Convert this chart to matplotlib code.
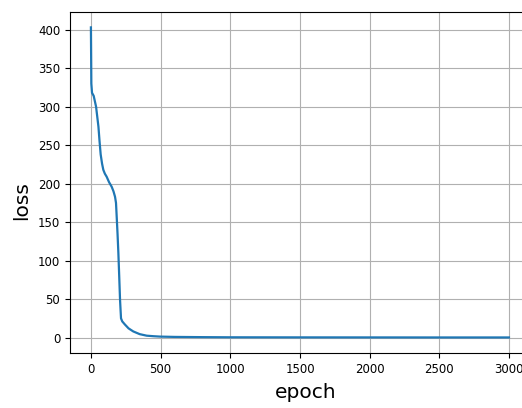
import matplotlib
matplotlib.use("Agg")
import matplotlib.pyplot as plt

# values
epochs = [0, 1, 3, 8, 20, 37, 54, 62, 70, 80, 89, 100, 113, 130, 149, 162, 173, 180,
          185, 191, 197, 203, 209, 213, 216, 225, 244, 270, 304, 350, 400, 450, 497,
          600, 800, 1000, 1500, 2000, 2500, 2999]
losses = [403, 380, 330, 318, 314, 300, 274, 255, 238, 226, 218, 213, 209, 202, 196,
          190, 183, 175, 157, 135, 110, 80, 49, 35, 25, 21, 17, 12, 8, 4.5, 2.5,
          1.8, 1.3, 0.9, 0.6, 0.4, 0.3, 0.25, 0.2, 0.2]

fig = plt.figure(figsize=(5.22, 4.08), dpi=100)
ax = fig.add_axes([70 / 522, 55 / 408, 460 / 522, 341 / 408])
ax.plot(epochs, losses, color='tab:blue', linewidth=1.6)
ax.set_xlim(-150, 3150)
ax.set_ylim(-20, 423)
ax.set_xticks([0, 500, 1000, 1500, 2000, 2500, 3000])
ax.set_yticks([0, 50, 100, 150, 200, 250, 300, 350, 400])
ax.tick_params(labelsize=8.5)
ax.set_xlabel('epoch', fontsize=14.5)
ax.set_ylabel('loss', fontsize=14.5)
ax.xaxis.set_label_coords(0.512, -0.088)
ax.yaxis.set_label_coords(-0.085, 0.447)
ax.grid(True)
fig.savefig('out.png', dpi=100)
